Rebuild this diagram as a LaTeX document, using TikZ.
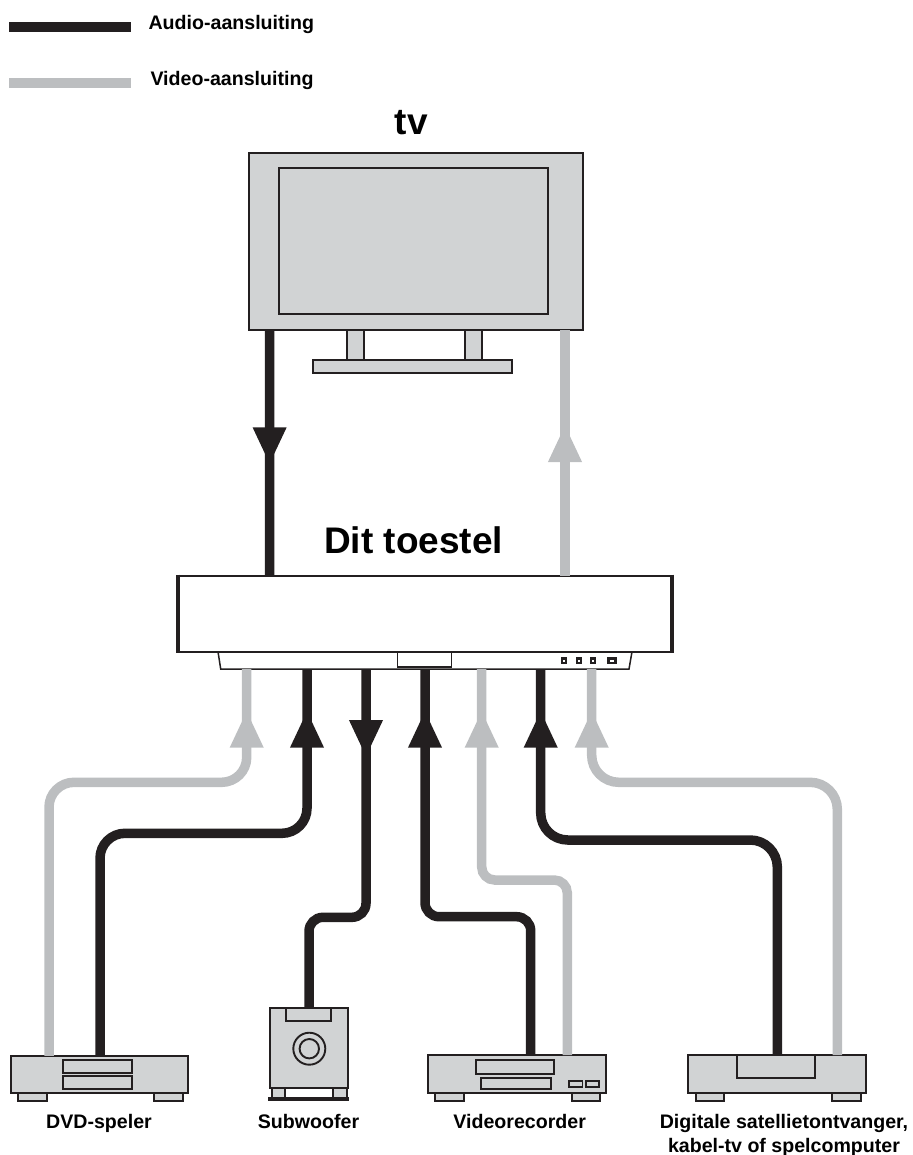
\documentclass[tikz,border=0pt]{standalone}
\usepackage{fontspec}
\setmainfont{Liberation Sans}
\usetikzlibrary{arrows.meta,decorations.markings}
\definecolor{inkblack}{HTML}{231F20}
\definecolor{panelgray}{HTML}{D1D3D4}
\definecolor{videogray}{HTML}{BCBEC0}
\begin{document}
\begin{tikzpicture}[
    x=1pt, y=-1pt,
    part/.style = {rectangle, draw=inkblack, fill=panelgray, line width=1.9pt, inner sep=0pt, outer sep=0pt},
    knob/.style = {rectangle, draw=inkblack, fill=white, line width=1.9pt, inner sep=0pt, outer sep=0pt},
    legendbar/.style = {rectangle, inner sep=0pt, outer sep=0pt, minimum width=122pt, minimum height=9.5pt},
    small label/.style = {anchor=base, inner sep=0pt, font=\bfseries\fontsize{19.6}{23.3}\selectfont, align=center},
    big label/.style = {anchor=base, inner sep=0pt, font=\bfseries\fontsize{37}{40}\selectfont},
    audio/.style = {draw=inkblack, line width=9.5pt},
    video/.style = {draw=videogray, line width=9.5pt},
    cabletip/.style = {decoration={markings, mark=at position #1 with {\arrow{Triangle[length=37.5pt,width=31pt]}}}, postaction=decorate}
]
    \useasboundingbox (0,0) rectangle (912,1155);

    % Legend
    \node [legendbar, fill=inkblack] (audiobar) at (70,27) {};
    \node [legendbar, fill=videogray] (videobar) at (70,83) {};
    \node [small label] (audiotext) at (231.3,29.3) {Audio-aansluiting};
    \node [small label] (videotext) at (232,86) {Video-aansluiting};

    % TV
    \node [big label] (tvtext) at (411.3,135) {tv};
    \node [part, minimum width=17pt, minimum height=30pt] (tvlegl) at (355.5,345) {};
    \node [part, minimum width=17pt, minimum height=30pt] (tvlegr) at (473.5,345) {};
    \node [part, minimum width=199pt, minimum height=13pt] (tvbase) at (412.5,366.5) {};
    \node [part, minimum width=333.7pt, minimum height=177pt] (tv) at (416,241.5) {};
    \node [part, minimum width=269pt, minimum height=146pt] (tvscreen) at (413.5,241) {};

    % Main unit
    \node [big label] (unittext) at (413.7,553.5) {Dit toestel};
    \draw [draw=inkblack, fill=white, line width=1.5pt] (218,651.7) -- (220.7,669) -- (629,669) -- (632,651.7);
    \coordinate (front) at (424.6,669);
    \node [knob, line width=1.3pt, minimum width=54pt, minimum height=15pt] (unitpanel) at (424.8,659.5) {};
    \node [knob, line width=2.4pt, minimum width=4.4pt, minimum height=4.4pt] (btna) at (564,660.7) {};
    \node [knob, line width=2.4pt, minimum width=4.4pt, minimum height=4.4pt] (btnb) at (579,660.7) {};
    \node [knob, line width=2.4pt, minimum width=4.4pt, minimum height=4.4pt] (btnc) at (593,660.7) {};
    \node [knob, line width=2.4pt, minimum width=7pt, minimum height=4.4pt] (btnd) at (612,660.7) {};
    \node [knob, minimum width=494pt, minimum height=76pt] (unit) at (424.6,613.7) {};
    \draw [draw=inkblack, line width=4pt] ([yshift=1pt]unit.north west) -- ([yshift=-1pt]unit.south west);
    \draw [draw=inkblack, line width=4pt] ([yshift=1pt]unit.north east) -- ([yshift=-1pt]unit.south east);

    % DVD player
    \node [part, minimum width=29pt, minimum height=8pt] (dvdfootl) at (32.2,1097) {};
    \node [part, minimum width=28.7pt, minimum height=8pt] (dvdfootr) at (168.35,1097) {};
    \node [part, minimum width=177.3pt, minimum height=37.3pt] (dvd) at (99.35,1074.4) {};
    \node [part, minimum width=69pt, minimum height=12.7pt] (dvdslota) at (97.5,1066.4) {};
    \node [part, minimum width=69pt, minimum height=13pt] (dvdslotb) at (97.5,1082.5) {};
    \node [small label] (dvdtext) at (99,1128.5) {DVD-speler};

    % Subwoofer
    \node [part, minimum width=13.3pt, minimum height=10pt] (subfootl) at (278.35,1093) {};
    \node [part, minimum width=14pt, minimum height=10pt] (subfootr) at (339.7,1093) {};
    \node [rectangle, fill=inkblack, inner sep=0pt, minimum width=81pt, minimum height=4pt] (subbar) at (308.5,1099) {};
    \node [part, minimum width=78pt, minimum height=80pt] (sub) at (309,1048) {};
    \node [part, minimum width=45.3pt, minimum height=13pt] (subport) at (308.35,1014.5) {};
    \node [part, circle, minimum size=32pt] (subcone) at (309.3,1048.7) {};
    \node [part, circle, minimum size=19.4pt] (subcap) at (309.3,1048.7) {};
    \node [small label] (subtext) at (308.5,1128.5) {Subwoofer};

    % Video recorder
    \node [part, minimum width=29pt, minimum height=8pt] (vcrfootl) at (449.5,1097) {};
    \node [part, minimum width=28.5pt, minimum height=8pt] (vcrfootr) at (585.8,1097) {};
    \node [part, minimum width=178pt, minimum height=38pt] (vcr) at (516.7,1074) {};
    \node [part, minimum width=78pt, minimum height=14pt] (vcrslota) at (515,1067) {};
    \node [part, minimum width=70pt, minimum height=11.3pt] (vcrslotb) at (515.7,1083.4) {};
    \node [part, minimum width=13.3pt, minimum height=6.5pt] (vcrbtna) at (575.8,1084) {};
    \node [part, minimum width=13.3pt, minimum height=6.5pt] (vcrbtnb) at (592.5,1084) {};
    \node [small label] (vcrtext) at (519.7,1128.7) {Videorecorder};

    % Satellite receiver
    \node [part, minimum width=28.3pt, minimum height=8pt] (satfootl) at (709.85,1097) {};
    \node [part, minimum width=29pt, minimum height=8pt] (satfootr) at (846.2,1097) {};
    \node [part, minimum width=177.7pt, minimum height=38pt] (sat) at (776.85,1074) {};
    \node [part, minimum width=78.3pt, minimum height=23pt] (sattray) at (775.85,1066.5) {};
    \node [small label] (sattext) at (784,1152) {Digitale satellietontvanger,\\kabel-tv of spelcomputer};

    % Cable bends
    \coordinate (dvdvideobend) at (246.7,782.3);
    \coordinate (dvdaudiobend) at (307,833.3);
    \coordinate (subbend) at (366,917.3);
    \coordinate (vcraudiobend) at (425,916.7);
    \coordinate (vcrvideobend) at (481.7,880);
    \coordinate (sataudiobend) at (540.7,840);
    \coordinate (satvideobend) at (591.7,782.3);

    % Edges
    \path [audio, cabletip=134.8pt] ([xshift=-146.3pt]tv.south) -- ([xshift=-155.1pt]unit.north);
    \path [video, cabletip=151.2pt] ([xshift=140.4pt]unit.north) -- ([xshift=149pt]tv.south);

    \path [video, cabletip=-41.2pt] ([xshift=-50.35pt]dvd.north) [rounded corners=25pt] |- (dvdvideobend) [rounded corners=13pt] -- (front -| dvdvideobend);
    \path [audio, cabletip=-41.2pt] ([xshift=0.65pt]dvd.north) [rounded corners=25pt] |- (dvdaudiobend) [rounded corners=14pt] -- (front -| dvdaudiobend);
    \path [audio, cabletip=88.5pt] (front -| subbend) [rounded corners=14pt] |- (subbend -| sub.north) -- (sub.north);
    \path [audio, cabletip=-41.2pt] ([xshift=14pt]vcr.north) [rounded corners=14pt] |- (vcraudiobend) [rounded corners=11pt] -- (front -| vcraudiobend);
    \path [video, cabletip=-41.2pt] ([xshift=50.6pt]vcr.north) [rounded corners=13pt] |- (vcrvideobend) [rounded corners=11pt] -- (front -| vcrvideobend);
    \path [audio, cabletip=-41.2pt] ([xshift=0.45pt]sat.north) [rounded corners=27pt] |- (sataudiobend) [rounded corners=14pt] -- (front -| sataudiobend);
    \path [video, cabletip=-41.2pt] ([xshift=60.45pt]sat.north) [rounded corners=27pt] |- (satvideobend) [rounded corners=15pt] -- (front -| satvideobend);

\end{tikzpicture}
\end{document}
